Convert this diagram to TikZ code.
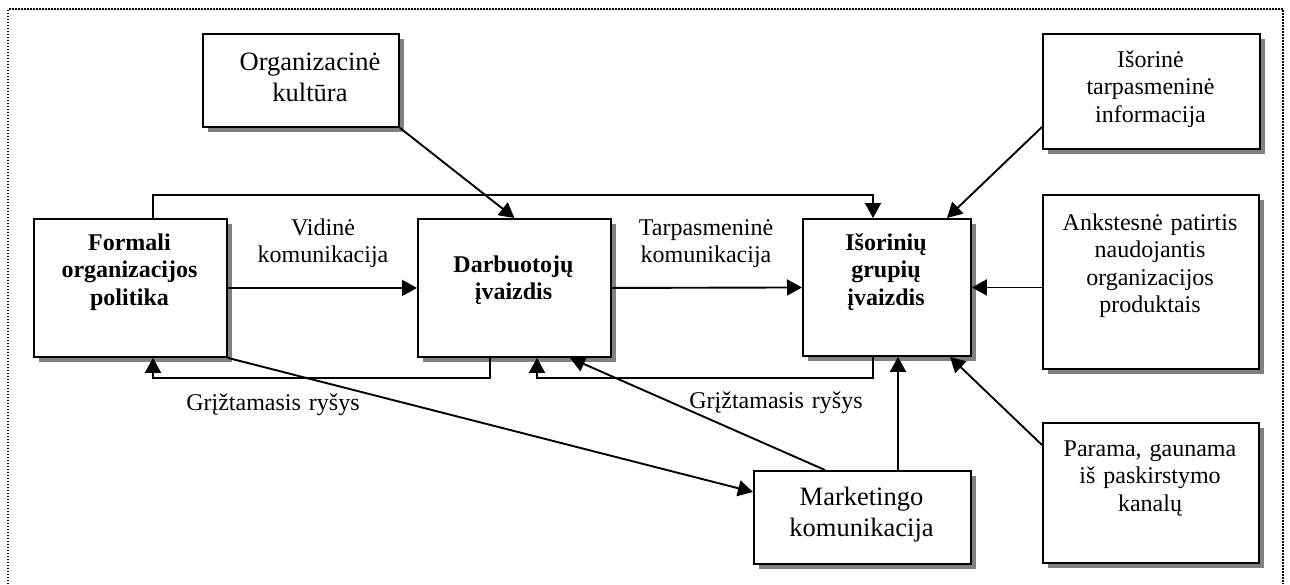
\documentclass[tikz,border=0pt]{standalone}
\usepackage{fontspec}
\setmainfont{Liberation Serif}
\usetikzlibrary{arrows.meta,shadows}
\begin{document}
\begin{tikzpicture}[x=1pt,y=-1pt,
  box/.style={draw, line width=1.9pt, fill=white, rectangle, inner sep=0pt,
    anchor=north west,
    drop shadow={shadow xshift=5pt, shadow yshift=-5pt, fill=black!50, opacity=1}},
  txt/.style={anchor=base, align=center, inner sep=0pt, text width=230pt,
    font=\fontsize{24}{27.5}\selectfont},
  bigtxt/.style={txt, font=\fontsize{26.5}{31}\selectfont},
  boldtxt/.style={txt, font=\fontsize{24}{27.5}\selectfont\bfseries},
  conn/.style={line width=1.9pt},
  arr/.style={conn, -{Triangle[length=15pt,width=16pt]}},
  frame/.style={line width=1.5pt, dash pattern=on 1.5pt off 1.5pt}]
\useasboundingbox (0,0) rectangle (1290,584);

% dotted outer frame
\draw[frame] (8,584) -- (8,9) -- (1283,9) -- (1283,584);

% boxes
\node[box, minimum width=196pt, minimum height=93pt]  (kult)    at (202,33)  {};
\node[box, minimum width=193pt, minimum height=138pt] (formali) at (33,218)  {};
\node[box, minimum width=193pt, minimum height=138pt] (darb)    at (417,218) {};
\node[box, minimum width=168pt, minimum height=137pt] (isor)    at (802,218) {};
\node[box, minimum width=217pt, minimum height=115pt] (info)    at (1042,33) {};
\node[box, minimum width=216pt, minimum height=174pt] (ankst)   at (1042,194) {};
\node[box, minimum width=217pt, minimum height=93pt]  (mark)    at (753,470) {};
\node[box, minimum width=216pt, minimum height=140pt] (param)   at (1042,422) {};

% box texts
\node[bigtxt]  (kult-t)    at (310,70)    {Organizacinė\\kultūra};
\node[boldtxt] (formali-t) at (129.5,250) {Formali\\organizacijos\\politika};
\node[boldtxt] (darb-t)    at (513.5,272) {Darbuotojų\\įvaizdis};
\node[boldtxt] (isor-t)    at (886,250)   {Išorinių\\grupių\\įvaizdis};
\node[txt]     (info-t)    at (1150.5,67) {Išorinė\\tarpasmeninė\\informacija};
\node[txt]     (ankst-t)   at (1150,230)  {Ankstesnė patirtis\\naudojantis\\organizacijos\\produktais};
\node[bigtxt]  (mark-t)    at (861.5,505) {Marketingo\\komunikacija};
\node[txt]     (param-t)   at (1150,456)  {Parama, gaunama\\iš paskirstymo\\kanalų};

% connector labels
\node[txt] (vid-l)  at (323,235) {Vidinė\\komunikacija};
\node[txt] (tarp-l) at (706,235) {Tarpasmeninė\\komunikacija};
\node[txt] (fb1-l)  at (273,410) {Grįžtamasis ryšys};
\node[txt] (fb2-l)  at (776,408) {Grįžtamasis ryšys};

% routing points
\coordinate (topL) at (153,195);
\coordinate (topR) at (873,195);
\coordinate (fb1R) at (490,378);
\coordinate (fb1L) at (153,378);
\coordinate (fb2R) at (873,378);
\coordinate (fb2L) at (537,378);
\coordinate (infoOut) at (1042,127);
\coordinate (infoIn) at (947,218);
\coordinate (paramOut) at (1042,445);
\coordinate (paramIn) at (950,355);
\coordinate (markUp) at (898,470);
\coordinate (markDb) at (825,470);
\coordinate (darbIn) at (570,356);
\coordinate (markIn) at (753,492);

% connectors
\draw[arr] (formali.north -| topL) -- (topL) -- (topR) -- (isor.north -| topR);
\draw[arr] (kult.south east) -- (darb.north);
\draw[arr] (formali.east) -- (darb.west);
\draw[arr] (darb.east) -- (isor.west);
\draw[arr] (darb.south -| fb1R) -- (fb1R) -- (fb1L) -- (formali.south -| fb1L);
\draw[arr] (isor.south -| fb2R) -- (fb2R) -- (fb2L) -- (darb.south -| fb2L);
\draw[arr] (infoOut) -- (isor.north -| infoIn);
\draw[arr] (ankst.west |- isor.east) -- (isor.east);
\draw[arr] (paramOut) -- (isor.south -| paramIn);
\draw[arr] (mark.north -| markUp) -- (isor.south -| markUp);
\draw[arr] (mark.north -| markDb) -- (darb.south -| darbIn);
\draw[arr] (formali.south east) -- (mark.west |- markIn);
\end{tikzpicture}
\end{document}
